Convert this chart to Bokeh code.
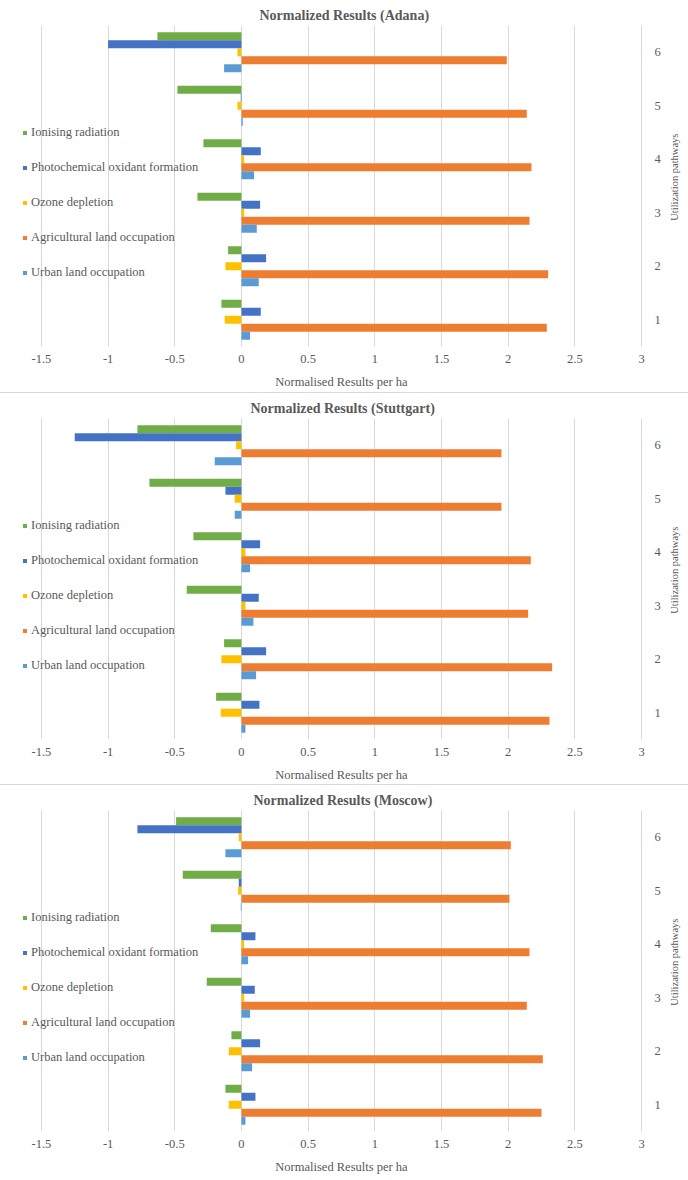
import math
from bokeh.plotting import figure
from bokeh.models import Range1d, FixedTicker, LinearAxis
from bokeh.layouts import column
from bokeh.transform import dodge
from bokeh.embed import file_html
from bokeh.resources import INLINE

# ---------------- data ----------------
pathways = [1, 2, 3, 4, 5, 6]
x_ticks = [-1.5, -1, -0.5, 0, 0.5, 1, 1.5, 2, 2.5, 3]
x_tick_labels = ["-1.5", "-1", "-0.5", "0", "0.5", "1", "1.5", "2", "2.5", "3"]

series_names = ["Ionising radiation", "Photochemical oxidant formation", "Ozone depletion",
                "Agricultural land occupation", "Urban land occupation"]
series_colors = ["#70AD47", "#4472C4", "#FFC000", "#ED7D31", "#5B9BD5"]

adana_ion = [-0.15, -0.10, -0.33, -0.285, -0.48, -0.63]
adana_photo = [0.145, 0.185, 0.14, 0.145, -0.005, -1.00]
adana_ozone = [-0.125, -0.12, 0.02, 0.02, -0.03, -0.03]
adana_agri = [2.29, 2.30, 2.16, 2.175, 2.14, 1.99]
adana_urban = [0.065, 0.13, 0.115, 0.095, 0.01, -0.13]

stuttgart_ion = [-0.19, -0.13, -0.41, -0.36, -0.69, -0.78]
stuttgart_photo = [0.135, 0.185, 0.13, 0.14, -0.12, -1.25]
stuttgart_ozone = [-0.155, -0.15, 0.03, 0.03, -0.05, -0.04]
stuttgart_agri = [2.31, 2.33, 2.15, 2.17, 1.95, 1.95]
stuttgart_urban = [0.03, 0.11, 0.09, 0.065, -0.05, -0.20]

moscow_ion = [-0.12, -0.075, -0.26, -0.23, -0.44, -0.49]
moscow_photo = [0.105, 0.14, 0.10, 0.105, -0.02, -0.78]
moscow_ozone = [-0.095, -0.095, 0.02, 0.02, -0.025, -0.02]
moscow_agri = [2.25, 2.26, 2.14, 2.16, 2.01, 2.02]
moscow_urban = [0.03, 0.08, 0.065, 0.05, -0.005, -0.12]

FONT = "Liberation Serif"
GREY = "#595959"
W, H = 688, 392
MB_LEFT, MB_RIGHT = 10, 43
MB_TOP, MB_BOT = 25, 46
FS = "12.5px"
X_START = 3 - (W - MB_LEFT - MB_RIGHT) / 134.2
X_TITLE_POS = 0.75   # horizontal anchor of the x-axis title (centre of chart)
Y_TITLE_POS = 2.85   # anchor of the rotated category-axis title


def plain_axis(ax, standoff, size=FS):
    ax.axis_line_color = None
    ax.major_tick_line_color = None
    ax.minor_tick_line_color = None
    ax.major_tick_out = 0
    ax.major_tick_in = 0
    ax.major_label_standoff = standoff
    ax.major_label_text_font = FONT
    ax.major_label_text_font_size = size
    ax.major_label_text_color = GREY


def make_panel(title, title_offset, ion, photo, ozone, agri, urban, top_border):
    p = figure(width=W, height=H, x_range=Range1d(X_START, 3), y_range=Range1d(0.5, 6.5),
               output_backend="svg", toolbar_location=None, y_axis_location="right",
               min_border_left=MB_LEFT, min_border_right=MB_RIGHT, min_border_top=MB_TOP,
               min_border_bottom=MB_BOT)
    p.outline_line_color = None
    if top_border:
        p.styles = {"border-top": "1px solid #d9d9d9"}

    p.title.text = title
    p.title.align = "left"
    p.title.offset = title_offset
    p.title.standoff = 6
    p.title.text_font = FONT
    p.title.text_font_size = "14px"
    p.title.text_font_style = "bold"
    p.title.text_color = GREY

    data = dict(cat=pathways, s0=ion, s1=photo, s2=ozone, s3=agri, s4=urban)
    offsets = [0.3, 0.15, 0.0, -0.15, -0.3]
    for i in range(5):
        p.hbar(y=dodge("cat", offsets[i], range=p.y_range), right="s%d" % i, left=0,
               height=0.15, source=data, fill_color=series_colors[i], line_color=None,
               legend_label=series_names[i])

    # value axis (bottom)
    xa = p.xaxis[0]
    xa.ticker = FixedTicker(ticks=x_ticks)
    xa.major_label_overrides = dict(zip(x_ticks, x_tick_labels))
    plain_axis(xa, 8)

    # value axis title, centred on the whole chart
    xt = LinearAxis(ticker=FixedTicker(ticks=[X_TITLE_POS]),
                    major_label_overrides={X_TITLE_POS: "Normalised Results per ha"})
    plain_axis(xt, 9)
    p.add_layout(xt, "below")

    # category axis (right)
    ya = p.yaxis[0]
    ya.ticker = FixedTicker(ticks=pathways)
    plain_axis(ya, 13)
    ya.axis_line_color = "#d9d9d9"

    # category axis title (reading bottom to top)
    ta = LinearAxis(ticker=FixedTicker(ticks=[Y_TITLE_POS]),
                    major_label_overrides={Y_TITLE_POS: "Utilization pathways"},
                    major_label_orientation=math.pi / 2)
    plain_axis(ta, 11, "10.5px")
    p.add_layout(ta, "right")

    p.xgrid.ticker = FixedTicker(ticks=x_ticks)
    p.xgrid.grid_line_color = "#d9d9d9"
    p.ygrid.visible = False

    lg = p.legend[0]
    lg.location = (12, 66)
    lg.padding = 0
    lg.margin = 0
    lg.spacing = 20
    lg.glyph_width = 5
    lg.glyph_height = 5
    lg.label_height = 14
    lg.label_standoff = 4
    lg.label_text_font = FONT
    lg.label_text_font_size = FS
    lg.label_text_color = GREY
    lg.background_fill_alpha = 0
    lg.border_line_alpha = 0
    return p


p1 = make_panel("Normalized Results (Adana)", 249, adana_ion, adana_photo, adana_ozone,
                adana_agri, adana_urban, False)
p2 = make_panel("Normalized Results (Stuttgart)", 240, stuttgart_ion, stuttgart_photo,
                stuttgart_ozone, stuttgart_agri, stuttgart_urban, True)
p3 = make_panel("Normalized Results (Moscow)", 243, moscow_ion, moscow_photo, moscow_ozone,
                moscow_agri, moscow_urban, True)

layout = column(p1, p2, p3, spacing=0)
open("out.html", "w").write(file_html(layout, INLINE))
